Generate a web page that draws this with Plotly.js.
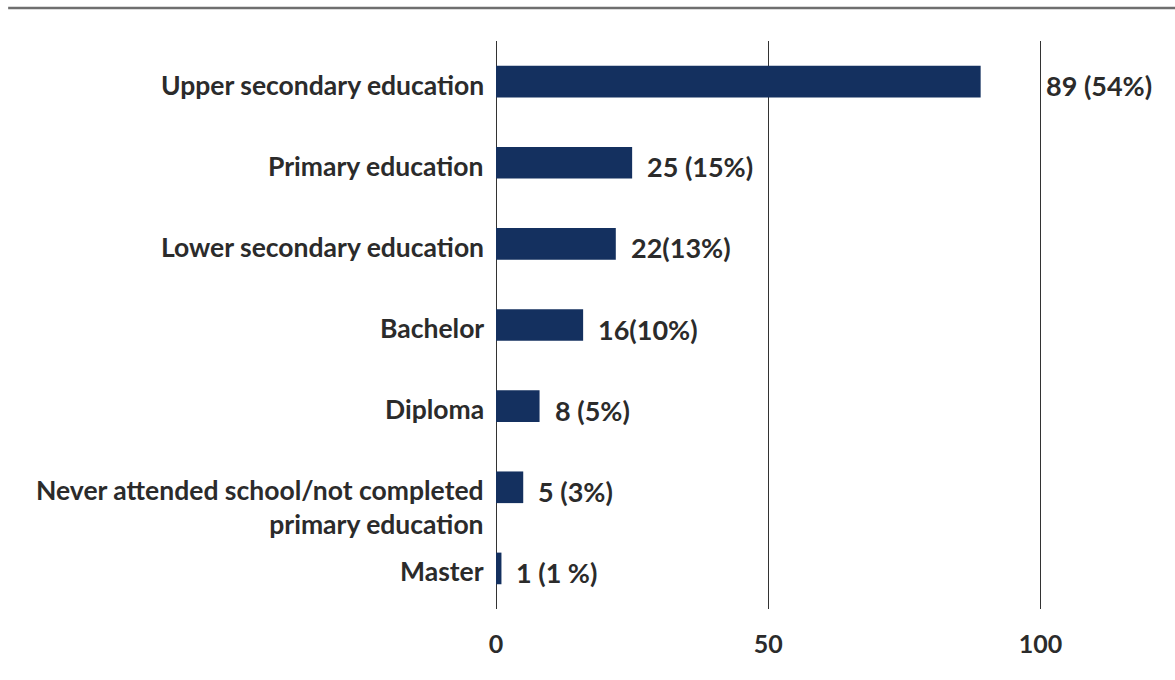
<!DOCTYPE html>
<html>
<head>
<meta charset="utf-8">
<script src="https://cdn.plot.ly/plotly-3.0.1.min.js"></script>
<style>html,body{margin:0;padding:0;background:#fff;}#chart{width:1175px;height:680px;}</style>
</head>
<body>
<div id="chart"></div>
<script>
const categories = [
  "Upper secondary education",
  "Primary education",
  "Lower secondary education",
  "Bachelor",
  "Diploma",
  "Never attended school/not completed<br>primary education",
  "Master"
];
const counts = [89, 25, 22, 16, 8, 5, 1];
const valueLabels = ["89 (54%)", "25 (15%)", "22(13%)", "16(10%)", "8 (5%)", "5 (3%)", "1 (1 %)"];
const xTicks = [0, 50, 100];

const textColor = "#2b2b2b";
const fontFamily = "Lato, 'Open Sans', sans-serif";

const trace = {
  type: "bar",
  orientation: "h",
  y: categories,
  x: counts,
  marker: { color: "#14305f" },
  width: 0.39,
  hoverinfo: "none"
};

const valueAnnotations = categories.map((c, i) => {
  const beyond = counts[i] > 85;
  return {
    x: beyond ? 100 : counts[i],
    y: c,
    xref: "x", yref: "y",
    text: valueLabels[i],
    showarrow: false,
    xanchor: "left",
    yanchor: "middle",
    xshift: beyond ? 3 : 13,
    yshift: -4,
    font: { family: fontFamily, size: 27, color: textColor, weight: 700 }
  };
});

const categoryAnnotations = categories.map((c) => ({
  x: 0,
  y: c,
  xref: "x", yref: "y",
  text: c,
  showarrow: false,
  xanchor: "right",
  yanchor: "top",
  align: "right",
  xshift: -10,
  yshift: 15,
  font: { family: fontFamily, size: 26.5, color: textColor, weight: 700 }
}));

const layout = {
  width: 1175, height: 680,
  margin: { l: 496, r: 129, t: 41, b: 71, pad: 0 },
  paper_bgcolor: "#ffffff",
  plot_bgcolor: "#ffffff",
  showlegend: false,
  font: { family: fontFamily, size: 25, color: textColor, weight: 700 },
  xaxis: {
    range: [0, 101],
    tickvals: xTicks,
    ticktext: xTicks.map(String),
    showgrid: true,
    gridcolor: "#333333",
    gridwidth: 1,
    zeroline: true,
    zerolinecolor: "#333333",
    zerolinewidth: 1,
    showline: false,
    ticks: "outside",
    ticklen: 13,
    tickcolor: "rgba(0,0,0,0)",
    tickfont: { family: fontFamily, size: 25, color: textColor, weight: 700 },
    fixedrange: true
  },
  yaxis: {
    autorange: "reversed",
    showgrid: false,
    zeroline: false,
    showline: false,
    showticklabels: false,
    ticks: "",
    fixedrange: true
  },
  shapes: [{
    type: "line",
    xref: "paper", yref: "paper",
    x0: -0.887, x1: 1.24,
    y0: 1.058, y1: 1.058,
    line: { color: "#6f6f6f", width: 2.5 }
  }],
  annotations: categoryAnnotations.concat(valueAnnotations)
};

Plotly.newPlot("chart", [trace], layout, { displayModeBar: false, staticPlot: true });
</script>
</body>
</html>
